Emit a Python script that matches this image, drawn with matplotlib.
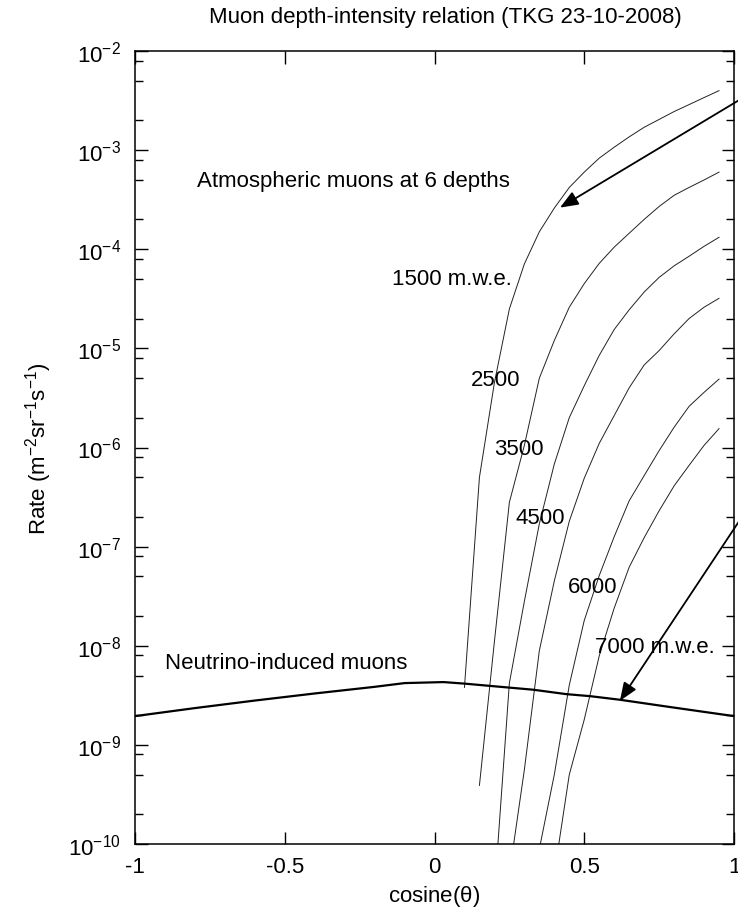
import numpy as np
import matplotlib
matplotlib.use('Agg')
import matplotlib.pyplot as plt
from matplotlib.ticker import LogLocator, FuncFormatter, FixedLocator, NullFormatter

plt.rcParams['font.family'] = ['Liberation Sans', 'DejaVu Sans']
plt.rcParams['mathtext.fontset'] = 'custom'
plt.rcParams['mathtext.rm'] = 'Liberation Sans'
plt.rcParams['mathtext.it'] = 'Liberation Sans'
plt.rcParams['mathtext.default'] = 'regular'

# cos(theta) grid for the atmospheric muon curves
cos_atm = [0.95, 0.90, 0.85, 0.80, 0.75, 0.70, 0.65, 0.60, 0.55, 0.50,
           0.45, 0.40, 0.35, 0.30, 0.25, 0.20, 0.15, 0.10]

# rates (m^-2 sr^-1 s^-1) at each depth
rate_1500 = [3.98e-3, 3.39e-3, 2.88e-3, 2.45e-3, 2.04e-3, 1.70e-3, 1.36e-3, 1.07e-3,
             8.3e-4, 6.0e-4, 4.2e-4, 2.6e-4, 1.5e-4, 7.1e-5, 2.5e-5, 4.5e-6, 5.0e-7, 3.8e-9]
rate_2500 = [6.0e-4, 5.0e-4, 4.2e-4, 3.5e-4, 2.7e-4, 2.0e-4, 1.45e-4, 1.05e-4,
             7.2e-5, 4.5e-5, 2.6e-5, 1.2e-5, 5.0e-6, 1.05e-6, 2.8e-7, 1.1e-8, 3.9e-10]
rate_3500 = [1.32e-4, 1.07e-4, 8.5e-5, 6.8e-5, 5.2e-5, 3.7e-5, 2.45e-5, 1.55e-5,
             8.5e-6, 4.2e-6, 2.0e-6, 6.8e-7, 1.7e-7, 2.8e-8, 4.2e-9, 3.2e-11]
rate_4500 = [3.2e-5, 2.6e-5, 2.0e-5, 1.4e-5, 9.5e-6, 6.8e-6, 4.0e-6, 2.1e-6,
             1.1e-6, 4.9e-7, 1.8e-7, 4.5e-8, 8.9e-9, 5.6e-10, 5.0e-11]
rate_6000 = [4.9e-6, 3.6e-6, 2.6e-6, 1.6e-6, 9.3e-7, 5.2e-7, 2.9e-7, 1.26e-7,
             5.1e-8, 1.8e-8, 4.0e-9, 5.0e-10, 8.9e-11]
rate_7000 = [1.55e-6, 1.05e-6, 6.6e-7, 4.1e-7, 2.3e-7, 1.23e-7, 6.2e-8, 2.4e-8,
             7.9e-9, 1.8e-9, 5.0e-10, 5.0e-11]

# neutrino-induced muons
cos_nu = [-1.0, -0.8, -0.6, -0.4, -0.2, -0.1, 0.03, 0.1, 0.2, 0.33, 0.44, 0.52, 0.62, 0.79, 1.0]
rate_nu = [1.95e-9, 2.35e-9, 2.8e-9, 3.3e-9, 3.85e-9, 4.2e-9, 4.3e-9, 4.15e-9, 3.9e-9,
           3.6e-9, 3.25e-9, 3.1e-9, 2.85e-9, 2.4e-9, 1.95e-9]

fs = 16

fig = plt.figure(figsize=(7.38, 9.12), dpi=100)
ax = fig.add_axes([135/738, 1 - 845/912, (734-135)/738, (845-52)/912])

for r in [rate_1500, rate_2500, rate_3500, rate_4500, rate_6000, rate_7000]:
    ax.plot(cos_atm[:len(r)], r, color='#222222', lw=0.7)
ax.plot(cos_nu, rate_nu, color='black', lw=1.6)

ax.set_yscale('log')
ax.set_xlim(-1, 1)
ax.set_ylim(1e-10, 1e-2)

ax.xaxis.set_major_locator(FixedLocator([-1, -0.5, 0, 0.5, 1]))
ax.xaxis.set_major_formatter(FuncFormatter(lambda v, p: '%g' % v))
ax.yaxis.set_major_locator(LogLocator(base=10, numticks=20))
ax.yaxis.set_minor_locator(LogLocator(base=10, subs=(2, 5, 8), numticks=20))
ax.yaxis.set_minor_formatter(NullFormatter())
ax.yaxis.set_major_formatter(FuncFormatter(lambda v, p: r'$10^{%d}$' % round(np.log10(v))))
ax.tick_params(which='both', direction='in', top=True, right=True, labelsize=fs)
ax.tick_params(which='major', length=9, width=1)
ax.tick_params(which='minor', length=6, width=1)
ax.tick_params(axis='x', pad=9)
ax.tick_params(axis='y', pad=10)
for s in ax.spines.values():
    s.set_linewidth(1.1)

fig.text(445/738, 1 - 17/912, 'Muon depth-intensity relation (TKG 23-10-2008)',
         fontsize=fs, ha='center', va='center')
ax.set_xlabel(r'cosine($\theta$)', fontsize=fs, labelpad=4)
ax.set_ylabel(r'Rate (m$^{-2}$sr$^{-1}$s$^{-1}$)', fontsize=fs, labelpad=10)

ax.text(-0.793, 10**-3.31, 'Atmospheric muons at 6 depths', fontsize=fs, va='center')
ax.text(-0.142, 10**-4.30, '1500 m.w.e.', fontsize=fs, va='center')
ax.text(0.121, 10**-5.31, '2500', fontsize=fs, va='center')
ax.text(0.199, 10**-6.01, '3500', fontsize=fs, va='center')
ax.text(0.272, 10**-6.71, '4500', fontsize=fs, va='center')
ax.text(0.445, 10**-7.40, '6000', fontsize=fs, va='center')
ax.text(0.536, 10**-8.01, '7000 m.w.e.', fontsize=fs, va='center')
ax.text(-0.9, 10**-8.17, 'Neutrino-induced muons', fontsize=fs, va='center')

arrow = dict(arrowstyle='-|>,head_length=0.55,head_width=0.22', color='black',
             lw=1.3, mutation_scale=20, shrinkA=0, shrinkB=0)
ax.annotate('', xy=(0.419, 10**-3.58), xytext=(1.02, 10**-2.49),
            arrowprops=arrow, annotation_clip=False)
ax.annotate('', xy=(0.619, 10**-8.556), xytext=(1.02, 10**-6.73),
            arrowprops=arrow, annotation_clip=False)

fig.savefig('out.png', dpi=100)
